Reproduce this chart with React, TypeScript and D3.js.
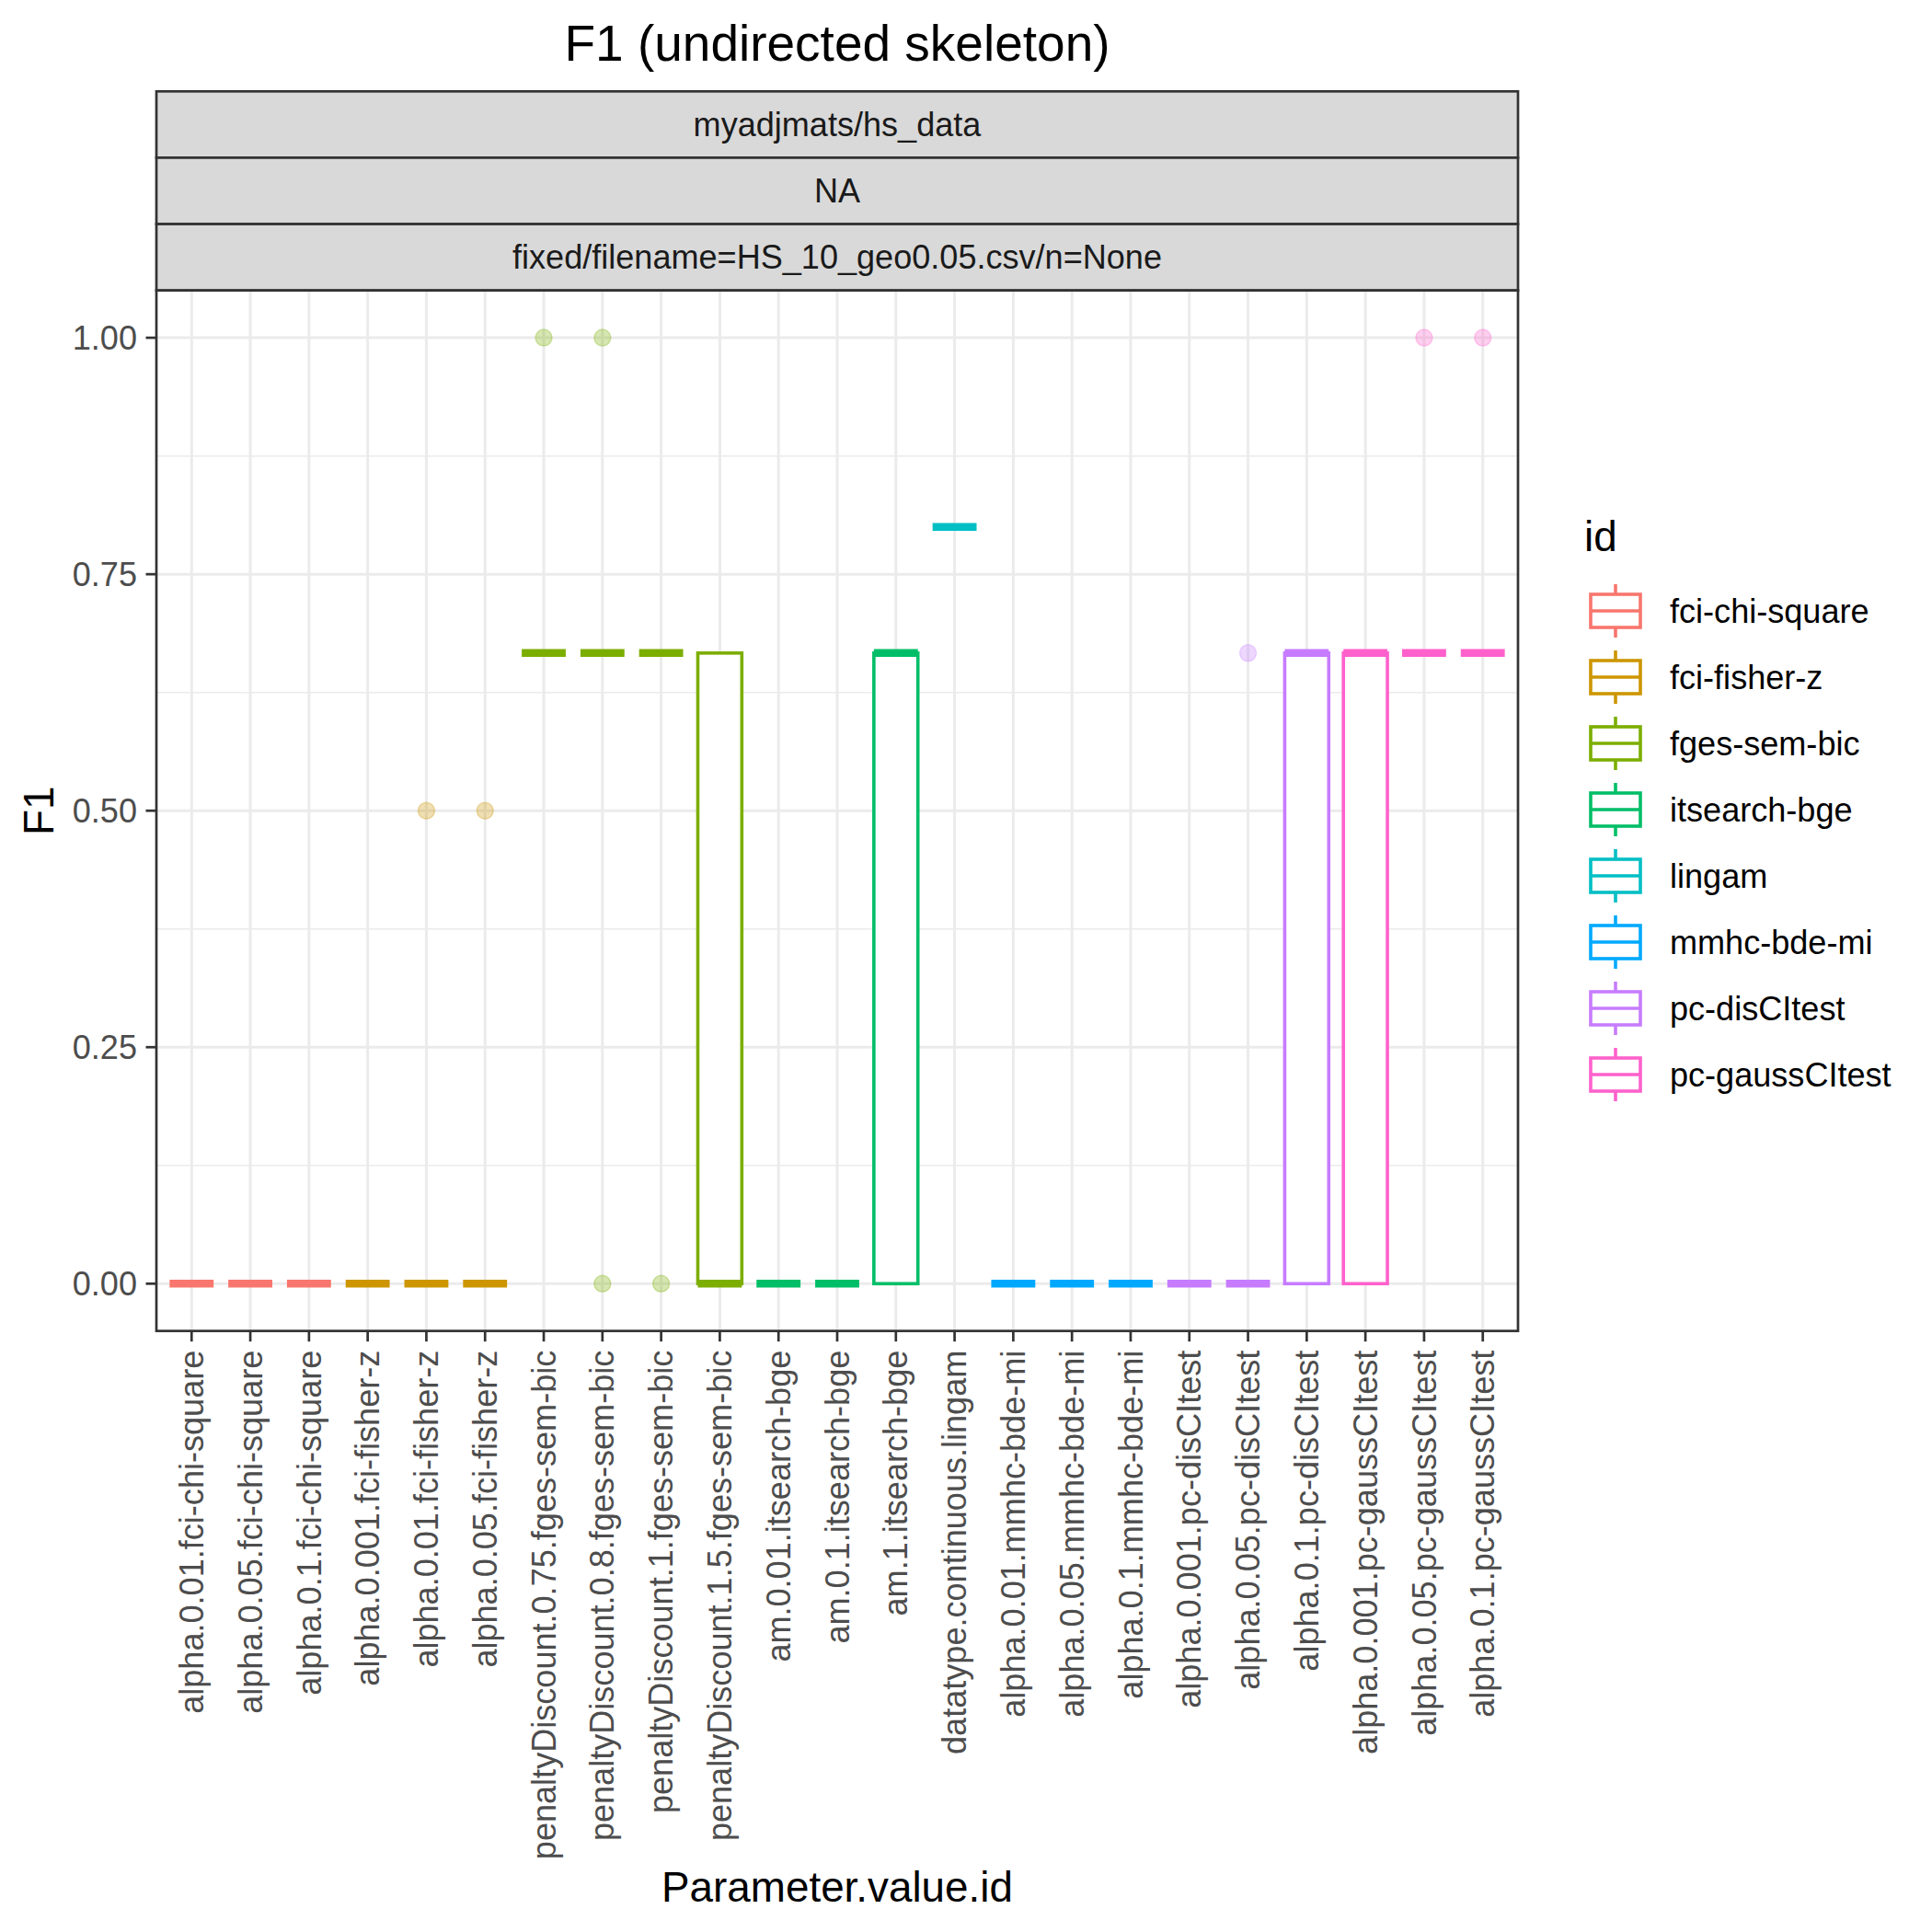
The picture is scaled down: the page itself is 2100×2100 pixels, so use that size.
import React from 'react';
import * as d3 from 'd3';

const categories = [
  'alpha.0.01.fci-chi-square', 'alpha.0.05.fci-chi-square', 'alpha.0.1.fci-chi-square',
  'alpha.0.001.fci-fisher-z', 'alpha.0.01.fci-fisher-z', 'alpha.0.05.fci-fisher-z',
  'penaltyDiscount.0.75.fges-sem-bic', 'penaltyDiscount.0.8.fges-sem-bic',
  'penaltyDiscount.1.fges-sem-bic', 'penaltyDiscount.1.5.fges-sem-bic',
  'am.0.01.itsearch-bge', 'am.0.1.itsearch-bge', 'am.1.itsearch-bge',
  'datatype.continuous.lingam',
  'alpha.0.01.mmhc-bde-mi', 'alpha.0.05.mmhc-bde-mi', 'alpha.0.1.mmhc-bde-mi',
  'alpha.0.001.pc-disCItest', 'alpha.0.05.pc-disCItest', 'alpha.0.1.pc-disCItest',
  'alpha.0.001.pc-gaussCItest', 'alpha.0.05.pc-gaussCItest', 'alpha.0.1.pc-gaussCItest',
];

const groups = [
  'fci-chi-square', 'fci-chi-square', 'fci-chi-square',
  'fci-fisher-z', 'fci-fisher-z', 'fci-fisher-z',
  'fges-sem-bic', 'fges-sem-bic', 'fges-sem-bic', 'fges-sem-bic',
  'itsearch-bge', 'itsearch-bge', 'itsearch-bge',
  'lingam',
  'mmhc-bde-mi', 'mmhc-bde-mi', 'mmhc-bde-mi',
  'pc-disCItest', 'pc-disCItest', 'pc-disCItest',
  'pc-gaussCItest', 'pc-gaussCItest', 'pc-gaussCItest',
];

const T = 2 / 3;
const q1 = [0, 0, 0, 0, 0, 0, T, T, T, 0, 0, 0, 0, 0.8, 0, 0, 0, 0, 0, 0, 0, T, T];
const medians = [0, 0, 0, 0, 0, 0, T, T, T, 0, 0, 0, T, 0.8, 0, 0, 0, 0, 0, T, T, T, T];
const q3 = [0, 0, 0, 0, 0, 0, T, T, T, T, 0, 0, T, 0.8, 0, 0, 0, 0, 0, T, T, T, T];
const outliers: number[][] = [
  [], [], [], [], [0.5], [0.5], [1], [1, 0], [0], [], [], [], [], [], [], [], [], [], [T], [], [], [1], [1],
];

const legendIds = [
  'fci-chi-square', 'fci-fisher-z', 'fges-sem-bic', 'itsearch-bge',
  'lingam', 'mmhc-bde-mi', 'pc-disCItest', 'pc-gaussCItest',
];
const palette = ['#F8766D', '#CD9600', '#7CAE00', '#00BE67', '#00BFC4', '#00A9FF', '#C77CFF', '#FF61CC'];

const yTicks = [0, 0.25, 0.5, 0.75, 1];
const yMinor = [0.125, 0.375, 0.625, 0.875];
const stripLabels = ['myadjmats/hs_data', 'NA', 'fixed/filename=HS_10_geo0.05.csv/n=None'];

const FONT = '"Liberation Sans", Arial, Helvetica, sans-serif';
const SMALL = 36.1;

export default function App() {
  const W = 2100, H = 2100;
  const left = 170, right = 1650, top = 315.7, bottom = 1446.7;
  const stripTop = 99.3;
  const stripH = (top - stripTop) / 3;

  const x = d3.scalePoint<string>().domain(categories).range([left, right]).padding(0.6);
  const y = d3.scaleLinear().domain([-0.05, 1.05]).range([bottom, top]);
  const color = d3.scaleOrdinal<string, string>().domain(legendIds).range(palette);
  const boxW = x.step() * 0.75;

  const legX = 1756, legY0 = 664, legStep = 72;

  return (
    <svg width={W} height={H} style={{ position: 'absolute', left: 0, top: 0, background: '#fff' }}
      fontFamily={FONT}>
      <rect x={0} y={0} width={W} height={H} fill="#fff" />
      <text x={(left + right) / 2} y={66} textAnchor="middle" fontSize={55} fill="#000">
        F1 (undirected skeleton)
      </text>

      {/* strips */}
      {stripLabels.map((s, i) => (
        <g key={s}>
          <rect x={left} y={stripTop + i * stripH} width={right - left} height={stripH}
            fill="#D9D9D9" stroke="#333333" strokeWidth={2.7} />
          <text x={(left + right) / 2} y={stripTop + (i + 0.5) * stripH} dy="0.35em"
            textAnchor="middle" fontSize={SMALL} fill="#1A1A1A">{s}</text>
        </g>
      ))}

      {/* panel grid */}
      <rect x={left} y={top} width={right - left} height={bottom - top} fill="#fff" />
      {yMinor.map(v => (
        <line key={'mn' + v} x1={left} x2={right} y1={y(v)} y2={y(v)} stroke="#EBEBEB" strokeWidth={1.5} />
      ))}
      {yTicks.map(v => (
        <line key={'mj' + v} x1={left} x2={right} y1={y(v)} y2={y(v)} stroke="#EBEBEB" strokeWidth={3} />
      ))}
      {categories.map(c => (
        <line key={'gx' + c} x1={x(c)} x2={x(c)} y1={top} y2={bottom} stroke="#EBEBEB" strokeWidth={3} />
      ))}

      {/* boxplots */}
      {categories.map((c, i) => {
        const cx = x(c) as number;
        const col = color(groups[i]);
        return (
          <g key={'bx' + c}>
            {outliers[i].map((v, j) => (
              <circle key={j} cx={cx} cy={y(v)} r={9} fill={col} fillOpacity={0.3}
                stroke={col} strokeOpacity={0.3} strokeWidth={1.5} />
            ))}
            {q3[i] > q1[i] && (
              <rect x={cx - boxW / 2} y={y(q3[i])} width={boxW} height={y(q1[i]) - y(q3[i])}
                fill="#fff" stroke={col} strokeWidth={3.6} />
            )}
            <line x1={cx - boxW / 2} x2={cx + boxW / 2} y1={y(medians[i])} y2={y(medians[i])}
              stroke={col} strokeWidth={8.5} />
          </g>
        );
      })}

      {/* panel border */}
      <rect x={left} y={top} width={right - left} height={bottom - top} fill="none"
        stroke="#333333" strokeWidth={2.7} />

      {/* y axis */}
      {yTicks.map(v => (
        <g key={'yt' + v}>
          <line x1={left - 11.5} x2={left} y1={y(v)} y2={y(v)} stroke="#333333" strokeWidth={2.7} />
          <text x={left - 21} y={y(v)} dy="0.35em" textAnchor="end" fontSize={SMALL} fill="#4D4D4D">
            {d3.format('.2f')(v)}
          </text>
        </g>
      ))}
      <text transform={`translate(58,${(top + bottom) / 2}) rotate(-90)`} textAnchor="middle"
        fontSize={45.8} fill="#000">F1</text>

      {/* x axis */}
      {categories.map(c => (
        <g key={'xt' + c}>
          <line x1={x(c)} x2={x(c)} y1={bottom} y2={bottom + 11.5} stroke="#333333" strokeWidth={2.7} />
          <text transform={`translate(${x(c)},${bottom + 21}) rotate(-90)`} dy="0.35em"
            textAnchor="end" fontSize={SMALL} fill="#4D4D4D">{c}</text>
        </g>
      ))}
      <text x={(left + right) / 2} y={2067} textAnchor="middle" fontSize={45.8} fill="#000">
        Parameter.value.id
      </text>

      {/* legend */}
      <text x={1722} y={599} fontSize={45.8} fill="#000">id</text>
      {legendIds.map((id, i) => {
        const cy = legY0 + i * legStep;
        const col = palette[i];
        const bw = 54, bh = 36;
        return (
          <g key={'lg' + id}>
            <line x1={legX} x2={legX} y1={cy - 29} y2={cy - bh / 2} stroke={col} strokeWidth={3.6} />
            <line x1={legX} x2={legX} y1={cy + bh / 2} y2={cy + 29} stroke={col} strokeWidth={3.6} />
            <rect x={legX - bw / 2} y={cy - bh / 2} width={bw} height={bh} fill="#fff"
              stroke={col} strokeWidth={3.6} />
            <line x1={legX - bw / 2} x2={legX + bw / 2} y1={cy} y2={cy} stroke={col} strokeWidth={3.6} />
            <text x={1815} y={cy} dy="0.35em" fontSize={SMALL} fill="#000">{id}</text>
          </g>
        );
      })}
    </svg>
  );
}
